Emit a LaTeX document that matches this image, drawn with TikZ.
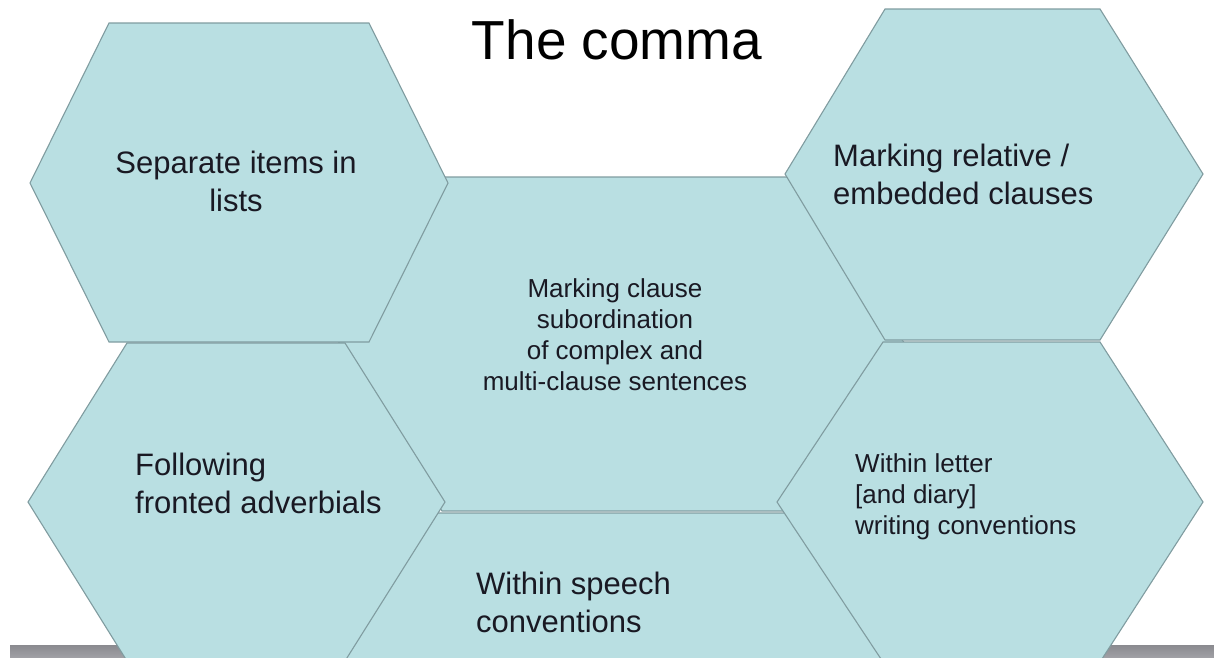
\documentclass[tikz,border=0pt]{standalone}
\usepackage{fontspec}
\setmainfont{Liberation Sans}
\definecolor{hexfill}{RGB}{185,223,226}
\definecolor{hexedge}{RGB}{128,156,160}
\definecolor{txt}{RGB}{25,25,35}
\definecolor{bartop}{RGB}{138,138,143}
\definecolor{barbot}{RGB}{165,165,170}
\newcommand{\lcol}[1]{\begin{tabular}[t]{@{}l@{}}#1\end{tabular}}
\newcommand{\ccol}[1]{\begin{tabular}[t]{@{}c@{}}#1\end{tabular}}
\tikzset{
  hexcell/.style={fill=hexfill, draw=hexedge, line width=1.1pt, line join=miter},
  bigtxt/.style={inner sep=0pt, text=txt, font=\fontsize{31}{38}\selectfont},
  smalltxt/.style={inner sep=0pt, text=txt, font=\fontsize{26}{31}\selectfont},
  titletxt/.style={inner sep=0pt, text=black, font=\fontsize{55}{66}\selectfont},
}
\begin{document}
\begin{tikzpicture}[x=1pt,y=-1pt]
\useasboundingbox (0,0) rectangle (1214,657);
\clip (0,0) rectangle (1214,657);
% gray base bar
\shade[top color=bartop, bottom color=barbot] (10,645) rectangle (1214,660);
% centre hexagon (behind)
\draw[hexcell] (338,344) -- (442,177) -- (789,177) -- (905,344) -- (784,511) -- (442,511) -- cycle;
% bottom centre hexagon
\draw[hexcell] (330,672) -- (436,513) -- (786,513) -- (895,672) -- (786,831) -- (436,831) -- cycle;
% left column
\draw[hexcell] (30,183) -- (109,23) -- (369,23) -- (448,183) -- (369,342) -- (109,342) -- cycle;
\draw[hexcell] (28,502) -- (127,343) -- (345,343) -- (445,502) -- (345,661) -- (127,661) -- cycle;
% right column
\draw[hexcell] (785,174) -- (885,9) -- (1100,9) -- (1203,174) -- (1100,340) -- (885,340) -- cycle;
\draw[hexcell] (777,502) -- (883,342) -- (1100,342) -- (1203,502) -- (1100,662) -- (883,662) -- cycle;
% texts
\node[titletxt, anchor=base] (title) at (617,59) {The comma};
\node[bigtxt, anchor=base] (lists) at (236,173) {\ccol{\fontsize{31}{39}\selectfont Separate items in\\lists}};
\node[bigtxt, anchor=base west] (relative) at (833,166) {\lcol{\fontsize{31}{37}\selectfont Marking relative /\\embedded clauses}};
\node[smalltxt, anchor=base] (clause) at (615,297) {\ccol{Marking clause\\subordination\\of complex and\\multi-clause sentences}};
\node[bigtxt, anchor=base west] (fronted) at (135,475) {\lcol{Following\\fronted adverbials}};
\node[smalltxt, anchor=base west] (letter) at (855,472) {\lcol{Within letter\\{[and diary]}\\writing conventions}};
\node[bigtxt, anchor=base west] (speech) at (476,594) {\lcol{Within speech\\conventions}};
\end{tikzpicture}
\end{document}
